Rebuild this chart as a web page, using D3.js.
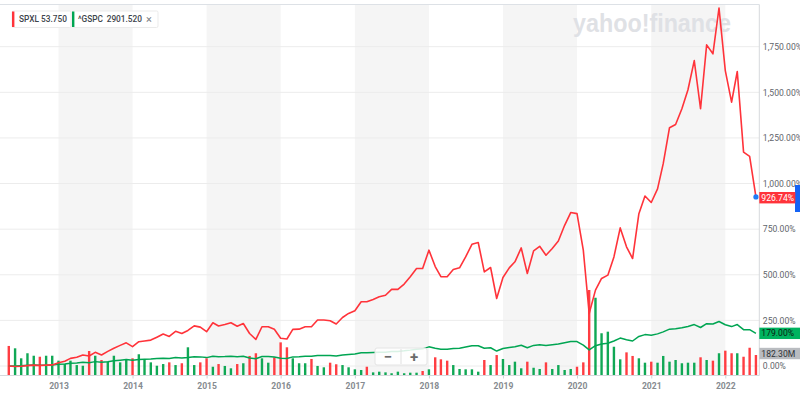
<!DOCTYPE html>
<html><head><meta charset="utf-8">
<script src="https://cdn.jsdelivr.net/npm/d3@7"></script>
<style>
body{margin:0;background:#fff;overflow:hidden;}
svg{display:block;font-family:Roboto,"Liberation Sans",Arial,sans-serif;}
</style>
</head><body>
<svg id="chart" width="800" height="396"></svg>
<script>
// ---- data ----
const firstMonth = "2012-05-01";
const lastMonth = "2022-06-01";
const spxlPct = [
  0,-3,-1,2,5,3,5,6,18,26,
  42,48,60,55,75,60,80,97,113,127,
  106,133,137,142,158,175,162,190,178,195,
  220,213,188,237,219,227,237,218,233,178,
  146,215,215,201,152,148,201,202,215,215,
  252,252,248,230,266,288,303,352,352,365,
  379,388,420,420,449,489,534,534,635,545,
  490,489,529,538,598,667,677,516,540,370,
  485,538,571,647,507,631,656,607,644,685,
  771,841,835,635,288,416,480,498,598,757,
  653,589,835,932,896,971,1109,1306,1324,1410,
  1514,1674,1410,1760,1711,1962,1619,1446,1614,1172,
  1149,926.74];
const gspcPct = [
  0,0,2,4,6,4,4,5,10,11,
  15,17,20,18,24,20,23,29,32,35,
  31,36,37,38,41,43,41,46,44,47,
  51,50,46,54,51,52,54,51,53,44,
  40,52,52,49,42,41,50,51,53,53,
  58,58,58,55,60,63,66,72,72,74,
  76,76,80,80,83,87,92,94,105,97,
  92,92,96,97,104,111,111,97,100,82,
  96,102,106,114,100,113,116,112,116,120,
  128,134,134,114,88,111,121,125,137,153,
  144,137,162,172,169,176,187,202,204,210,
  217,227,211,232,230,244,226,216,227,199,
  199,179];
const volumeM = [
  263,242,153,198,176,167,176,176,132,102,
  132,93,87,218,176,138,123,176,117,147,
  153,189,147,117,87,102,117,93,109,251,
  93,117,153,78,102,85,64,102,109,174,
  198,153,114,162,295,251,153,109,109,147,
  85,73,114,100,93,73,55,49,78,28,
  34,28,20,34,20,25,25,40,55,162,
  144,132,93,58,55,55,34,138,93,182,
  147,93,123,64,123,69,58,117,58,93,
  49,58,78,117,761,692,376,390,256,144,
  206,174,153,114,123,114,174,123,138,109,
  114,114,162,138,132,198,221,198,198,167,
  247,182.3];
const volumeDir = "rggggrgggg"+"gggrgrgggg"+"rgggggrgrg"+"grrgrggrgr"+"rggrrrgggr"+
                  "ggrrggggrg"+"gggggggrgr"+"rrgggggrgr"+"ggggrggrgg"+"ggrrrggggg"+
                  "rrggrggggg"+"ggrgrgrrgr"+"rr";
const yearLabels = ["2013","2014","2015","2016","2017","2018","2019","2020","2021","2022"];
const pctTicks = [0,250,500,750,1000,1250,1500,1750];
const legendItems = [{sym:"SPXL", val:"53.750"},{sym:"^GSPC", val:"2901.520"}];
const lastLabels = {spxl:"926.74%", gspc:"179.00%", vol:"182.30M"};

// ---- setup ----
const RED = "#ff333a", GREEN = "#00a552";
const svg = d3.select("#chart");
const plot = {left:0, right:759.3, top:4.5, bottom:375.5};
const parse = d3.utcParse("%Y-%m-%d");
const months = d3.utcMonth.range(parse(firstMonth), d3.utcMonth.offset(parse(lastMonth),1));
const years = yearLabels.map(y => parse(y+"-01-01"));

const x = d3.scaleUtc().domain([years[0], years[years.length-1]]).range([58.5, 725.3]);
const y = d3.scaleLinear().domain([0,1750]).range([366, 46.7]);
const yv = d3.scaleLinear().domain([0,800]).range([plot.bottom, plot.bottom - 800/8.9]);

// year bands
const bandYears = years.filter((d,i)=> i%2===0);
svg.append("g").selectAll("rect").data(bandYears).join("rect")
  .attr("x", d => x(d))
  .attr("width", d => x(d3.utcYear.offset(d,1)) - x(d))
  .attr("y", plot.top).attr("height", plot.bottom - plot.top)
  .attr("fill", "#f5f5f5");

// gridlines
svg.append("g").selectAll("line").data(pctTicks).join("line")
  .attr("x1", plot.left).attr("x2", plot.right)
  .attr("y1", d => y(d)).attr("y2", d => y(d))
  .attr("stroke", "#ececec").attr("stroke-width", 1);

// top border
svg.append("line").attr("x1",0).attr("x2",plot.right).attr("y1",plot.top).attr("y2",plot.top)
  .attr("stroke","#dde1e6").attr("stroke-width",1);

// watermark logo
svg.append("text").attr("x",573).attr("y",31.5)
  .attr("font-family","'Liberation Sans',Arial,sans-serif")
  .attr("font-weight",700).attr("font-size",25).attr("fill","#dfe1e5")
  .attr("textLength",158).attr("lengthAdjust","spacingAndGlyphs")
  .text("yahoo!finance");

// volume bars
svg.append("g").selectAll("rect").data(volumeM).join("rect")
  .attr("x", (d,i) => x(months[i]) - 1.2)
  .attr("width", 2.4)
  .attr("y", d => yv(d))
  .attr("height", d => plot.bottom - yv(d))
  .attr("fill", (d,i) => volumeDir[i]==="r" ? "#ff3d42" : "#10a855");

// lines
const line = d3.line().x((d,i)=>x(months[i])).y(d=>y(d));
svg.append("path").datum(gspcPct).attr("d", line)
  .attr("fill","none").attr("stroke",GREEN).attr("stroke-width",1.5).attr("stroke-linejoin","round");
svg.append("path").datum(spxlPct).attr("d", line)
  .attr("fill","none").attr("stroke",RED).attr("stroke-width",1.6).attr("stroke-linejoin","round");

// bottom axis
const xAxis = d3.axisBottom(x).tickValues(years).tickFormat((d,i)=>yearLabels[i]).tickSize(3).tickSizeOuter(0);
const gx = svg.append("g").attr("transform",`translate(0,${plot.bottom})`).call(xAxis);
gx.select(".domain").attr("stroke","#d6d9dd").attr("d",`M0,0H${plot.right}`);
gx.selectAll(".tick line").attr("stroke","#cfd3d7");
gx.selectAll(".tick text").attr("y",7).attr("dy","0.71em")
  .attr("font-size",8.6).attr("font-weight",700).attr("fill","#868b90")
  .attr("font-family","Roboto,'Liberation Sans',Arial,sans-serif");

// right axis
const yAxis = d3.axisRight(y).tickValues(pctTicks).tickFormat(d => d3.format(",.2f")(d)+"%").tickSize(0);
const gy = svg.append("g").attr("transform",`translate(${plot.right},0)`).call(yAxis);
gy.select(".domain").attr("stroke","#d6d9dd").attr("d",`M0,${plot.top}V${plot.bottom}`);
gy.selectAll(".tick text").attr("x",3.5).attr("font-size",8.6).attr("fill","#5f656b")
  .attr("font-family","Roboto,'Liberation Sans',Arial,sans-serif");

// end-value tags
function tag(yc, text, fill, color, w){
  const g = svg.append("g");
  g.append("rect").attr("x",plot.right).attr("y",yc-5.7).attr("width",w).attr("height",11.4).attr("fill",fill);
  g.append("text").attr("x",plot.right+2).attr("y",yc).attr("dy","0.35em")
    .attr("font-size",8.6).attr("fill",color).text(text);
}
// blue tag at right edge
svg.append("rect").attr("x",795).attr("y",185).attr("width",6).attr("height",27).attr("fill","#1563f5");
tag(y(spxlPct[spxlPct.length-1])+0.8, lastLabels.spxl, RED, "#ffffff", 36);
tag(y(gspcPct[gspcPct.length-1]), lastLabels.gspc, "#00b35f", "#0d1a12", 42);
tag(yv(volumeM[volumeM.length-1])-1.5, lastLabels.vol, "#b9bcc0", "#2f3337", 42);

// end dot
svg.append("circle").attr("cx", x(months[months.length-1])).attr("cy", y(spxlPct[spxlPct.length-1]))
  .attr("r",2.6).attr("fill","#1e7bf5");

// zoom control
const zc = svg.append("g");
zc.append("rect").attr("x",375).attr("y",348).attr("width",52).attr("height",17).attr("rx",2)
  .attr("fill","#ffffff").attr("fill-opacity",0.85).attr("stroke","#e4e4e4");
zc.append("line").attr("x1",401).attr("x2",401).attr("y1",349).attr("y2",364).attr("stroke","#e0e0e0");
zc.append("text").attr("x",388).attr("y",357).attr("dy","0.35em").attr("text-anchor","middle")
  .attr("font-size",15).attr("font-weight",700).attr("fill","#6b6b6b").text("−");
zc.append("text").attr("x",414).attr("y",357).attr("dy","0.35em").attr("text-anchor","middle")
  .attr("font-size",15).attr("font-weight",700).attr("fill","#6b6b6b").text("+");

// legend
const legend = [
  {x:12, w:59, color:RED, symX:19, valX:41, close:false},
  {x:72, w:86, color:"#00a552", symX:78, valX:106.7, close:true}
];
legend.forEach((L,i) => {
  const g = svg.append("g");
  g.append("rect").attr("x",L.x).attr("y",11).attr("width",L.w).attr("height",16.5).attr("rx",1.5)
    .attr("fill","#fff").attr("stroke","#ebebeb");
  g.append("rect").attr("x",L.x).attr("y",11.5).attr("width",2.4).attr("height",15.5).attr("fill",L.color);
  g.append("text").attr("x",L.symX).attr("y",22.4).attr("font-size",8.3).attr("font-weight",500)
    .attr("fill","#3d444b").text(legendItems[i].sym);
  g.append("text").attr("x",L.valX).attr("y",22.4).attr("font-size",8.3).attr("font-weight",500)
    .attr("fill","#3d444b").text(legendItems[i].val);
  if (L.close) g.append("text").attr("x",149).attr("y",23).attr("text-anchor","middle")
    .attr("font-size",11).attr("fill","#7a7f85").text("×");
});
</script>
</body></html>
